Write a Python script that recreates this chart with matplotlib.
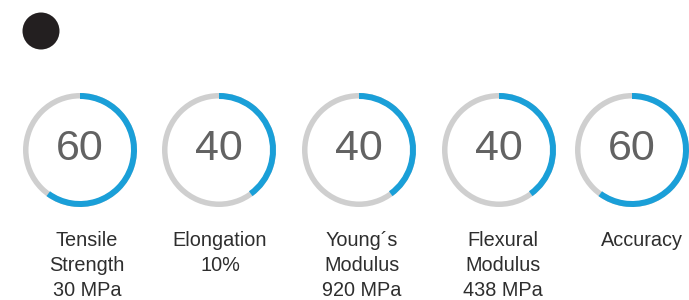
import matplotlib.pyplot as plt
from matplotlib.patches import Wedge, Circle

# chart values
labels = ['Tensile\nStrength\n30 MPa', 'Elongation\n10%', 'Young\u00b4s\nModulus\n920 MPa',
          'Flexural\nModulus\n438 MPa', 'Accuracy']
scores = [60, 40, 40, 40, 60]

# layout (pixel coords, y measured from top)
ring_x = [80, 219, 359, 499, 632]
label_x = [87, 220, 362, 503, 642]
ring_y = 150
r_out = 57
ring_w = 6

BLUE = '#1a9fd8'
GREY = '#cfcfcf'

W, H = 689, 300
fig = plt.figure(figsize=(W / 100, H / 100), dpi=100)
ax = fig.add_axes([0, 0, 1, 1])
ax.set_xlim(0, W)
ax.set_ylim(0, H)
ax.set_aspect('equal')
ax.axis('off')

# black dot top-left
ax.add_patch(Circle((41, H - 31), 18.5, color='#231f20', lw=0))

for cx, lx, val, lab in zip(ring_x, label_x, scores, labels):
    cy = H - ring_y
    ax.add_patch(Wedge((cx, cy), r_out, 0, 360, width=ring_w - 0.5, color=GREY, lw=0))
    ax.add_patch(Wedge((cx, cy), r_out, 90 - val / 100 * 360, 90, width=ring_w, color=BLUE, lw=0))
    ax.text(cx, cy + 1, str(val), ha='center', va='center', fontsize=31,
            family='Liberation Sans', color='#626262')
    ax.text(lx, H - 231, lab, ha='center', va='top', fontsize=14.3,
            family='Liberation Sans', color='#2e2e2e', linespacing=1.39)

fig.savefig('out.png', dpi=100)
